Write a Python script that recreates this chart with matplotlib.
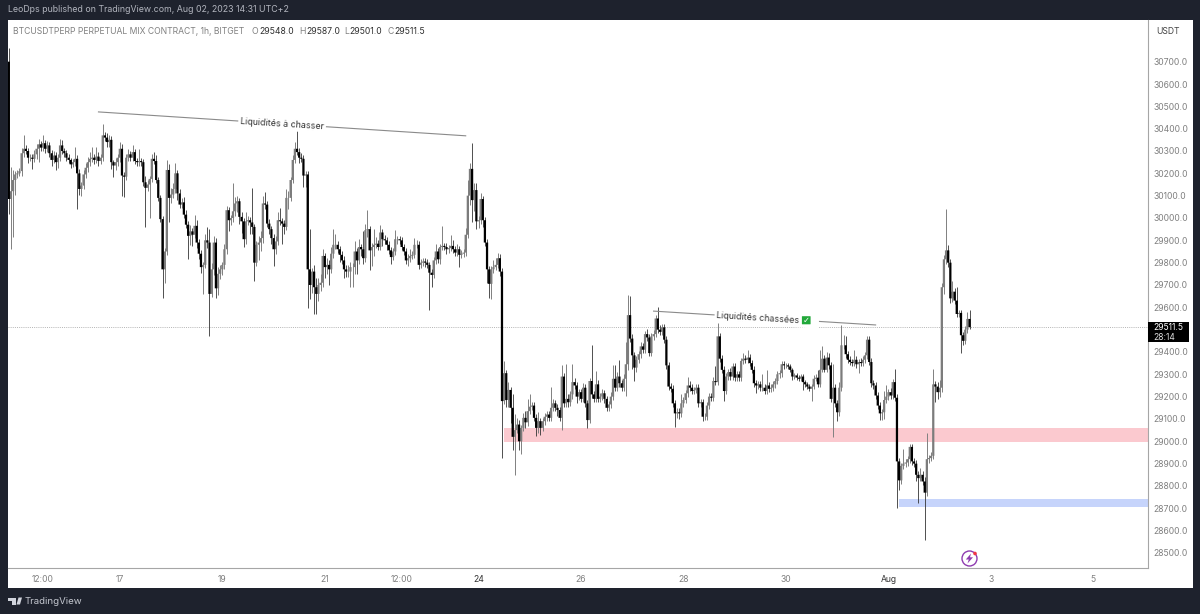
import pandas as pd
import matplotlib.pyplot as plt
import matplotlib.dates as mdates
from matplotlib.patches import Rectangle, Circle, Polygon, FancyBboxPatch

# Hourly candles, one inner list per calendar day
first_open = 30700
start_time = '2023-07-14 20:00'

closes = [
    [30085, 30120, 30170, 30195],
    [30200, 30210, 30290, 30310, 30300, 30270, 30270, 30265, 30285, 30310, 30330, 30315, 30335, 30310, 30325, 30290, 30260, 30280, 30250, 30270, 30325, 30300, 30290, 30270],
    [30260, 30240, 30250, 30265, 30200, 30130, 30145, 30195, 30225, 30250, 30265, 30270, 30260, 30275, 30255, 30270, 30370, 30360, 30340, 30350, 30250, 30235, 30250, 30270],
    [30310, 30190, 30185, 30270, 30285, 30270, 30295, 30255, 30250, 30255, 30250, 30160, 30135, 30150, 30175, 30265, 30255, 30170, 30090, 29995, 29770, 29850, 30215, 30090],
    [30105, 30130, 30200, 30110, 30060, 30070, 30015, 29970, 29920, 29940, 29925, 29965, 29890, 29840, 29780, 29790, 29900, 29890, 29660, 29770, 29890, 29685, 29750, 29770],
    [29790, 29860, 30035, 29990, 30000, 30030, 30065, 30075, 30005, 29985, 29905, 29985, 29990, 29980, 29960, 29800, 29880, 29890, 29910, 30065, 30060, 29975, 29950, 29910],
    [29860, 29895, 29990, 29985, 29975, 29960, 30090, 30090, 30170, 30260, 30310, 30295, 30270, 30265, 30190, 30195, 29770, 29700, 29760, 29690, 29660, 29700, 29710, 29830],
    [29780, 29790, 29770, 29840, 29880, 29880, 29860, 29835, 29810, 29770, 29760, 29760, 29780, 29780, 29850, 29810, 29870, 29860, 29820, 29945, 29950, 29855, 29870, 29880],
    [29885, 29870, 29935, 29905, 29900, 29880, 29855, 29825, 29850, 29905, 29905, 29900, 29870, 29850, 29810, 29820, 29830, 29835, 29880, 29880, 29790, 29800, 29805, 29800],
    [29790, 29755, 29745, 29810, 29850, 29815, 29870, 29875, 29870, 29860, 29865, 29875, 29860, 29845, 29860, 29835, 29840, 29845, 29925, 30100, 30220, 30080, 30125, 29985],
    [29990, 30085, 29990, 29890, 29770, 29705, 29770, 29780, 29790, 29820, 29760, 29180, 29305, 29185, 29230, 29150, 29020, 29050, 29075, 29000, 29060, 29105, 29085, 29135],
    [29155, 29160, 29105, 29060, 29090, 29060, 29090, 29110, 29120, 29105, 29150, 29170, 29150, 29140, 29105, 29290, 29170, 29190, 29175, 29210, 29265, 29250, 29200, 29220],
    [29190, 29240, 29170, 29095, 29270, 29210, 29190, 29255, 29190, 29200, 29215, 29190, 29150, 29165, 29200, 29280, 29240, 29290, 29260, 29240, 29280, 29345, 29565, 29460],
    [29385, 29330, 29365, 29390, 29425, 29410, 29480, 29465, 29395, 29470, 29480, 29550, 29500, 29490, 29510, 29455, 29340, 29245, 29235, 29170, 29125, 29130, 29125, 29170],
    [29185, 29215, 29250, 29240, 29225, 29230, 29240, 29170, 29175, 29110, 29110, 29160, 29200, 29195, 29270, 29265, 29470, 29370, 29320, 29225, 29290, 29310, 29290, 29335],
    [29285, 29300, 29285, 29360, 29370, 29365, 29375, 29350, 29320, 29260, 29250, 29255, 29240, 29240, 29225, 29250, 29235, 29240, 29255, 29270, 29300, 29305, 29345, 29340],
    [29340, 29335, 29320, 29290, 29295, 29285, 29280, 29290, 29265, 29255, 29245, 29235, 29245, 29280, 29285, 29255, 29320, 29370, 29320, 29375, 29340, 29190, 29240, 29170],
    [29130, 29240, 29430, 29430, 29390, 29365, 29355, 29350, 29365, 29345, 29355, 29350, 29365, 29385, 29455, 29355, 29260, 29250, 29205, 29160, 29125, 29130, 29185, 29200],
    [29220, 29205, 29265, 29195, 28910, 28825, 28890, 28900, 28905, 28920, 28975, 28910, 28900, 28850, 28835, 28850, 28820, 28770, 28920, 28925, 28935, 29255, 29245, 29220],
    [29240, 29690, 29815, 29855, 29800, 29640, 29670, 29630, 29570, 29575, 29475, 29450, 29500, 29548, 29511.5],
]

# Wick length above the top of each body
upper_wicks = [
    [60, 110, 45, 15],
    [15, 15, 25, 60, 15, 15, 15, 15, 20, 20, 25, 15, 35, 15, 20, 15, 15, 20, 15, 15, 30, 25, 15, 15],
    [15, 10, 15, 55, 15, 20, 15, 20, 20, 25, 30, 50, 15, 45, 20, 15, 50, 15, 20, 20, 15, 10, 20, 15],
    [30, 20, 15, 15, 25, 15, 30, 15, 15, 55, 15, 15, 30, 20, 15, 20, 30, 25, 15, 15, 15, 15, 45, 25],
    [30, 25, 45, 15, 20, 20, 25, 20, 15, 30, 15, 50, 25, 15, 15, 15, 30, 60, 60, 30, 30, 20, 30, 20],
    [15, 25, 20, 15, 15, 125, 30, 25, 15, 20, 15, 40, 20, 15, 155, 15, 15, 30, 30, 35, 50, 15, 20, 15],
    [20, 25, 35, 55, 15, 15, 40, 30, 15, 20, 30, 100, 20, 20, 15, 15, 15, 180, 15, 30, 40, 30, 40, 30],
    [15, 30, 20, 30, 70, 50, 15, 15, 15, 20, 20, 30, 25, 20, 45, 15, 35, 15, 80, 30, 85, 15, 20, 70],
    [30, 15, 35, 15, 20, 15, 15, 15, 15, 40, 15, 15, 15, 15, 15, 20, 30, 15, 30, 20, 15, 15, 15, 15],
    [15, 15, 15, 15, 35, 15, 15, 90, 15, 20, 15, 50, 25, 15, 25, 15, 15, 15, 30, 70, 25, 115, 30, 30],
    [20, 25, 15, 15, 15, 15, 15, 30, 30, 25, 20, 15, 55, 15, 35, 15, 60, 70, 30, 20, 15, 20, 30, 55],
    [55, 15, 15, 15, 40, 15, 15, 15, 15, 15, 95, 20, 15, 15, 15, 50, 15, 155, 20, 15, 80, 20, 15, 15],
    [15, 20, 15, 15, 15, 160, 15, 60, 20, 15, 20, 15, 15, 15, 20, 60, 60, 20, 75, 15, 20, 100, 90, 85],
    [20, 15, 15, 15, 20, 15, 15, 25, 15, 15, 20, 15, 50, 20, 15, 15, 15, 15, 15, 15, 15, 20, 20, 40],
    [15, 15, 40, 20, 15, 15, 15, 15, 15, 15, 15, 15, 15, 15, 20, 65, 60, 15, 15, 15, 15, 15, 20, 15],
    [15, 15, 15, 15, 25, 15, 35, 15, 15, 15, 15, 15, 15, 60, 15, 70, 15, 15, 15, 15, 15, 15, 15, 15],
    [10, 10, 10, 10, 10, 10, 10, 10, 10, 10, 10, 10, 10, 15, 15, 35, 90, 55, 15, 25, 20, 15, 105, 15],
    [15, 25, 90, 45, 40, 15, 15, 15, 45, 15, 15, 20, 15, 15, 15, 15, 20, 15, 15, 15, 15, 15, 40, 50],
    [15, 20, 15, 60, 15, 15, 15, 65, 15, 15, 15, 15, 15, 15, 15, 30, 15, 20, 115, 15, 15, 70, 15, 20],
    [35, 20, 20, 185, 25, 15, 50, 15, 60, 15, 15, 15, 15, 30, 39],
]

# Wick length below the bottom of each body
lower_wicks = [
    [65, 225, 205, 65],
    [15, 10, 20, 15, 15, 25, 15, 45, 15, 20, 60, 15, 15, 20, 15, 15, 25, 15, 35, 25, 15, 15, 15, 15],
    [15, 15, 10, 15, 160, 25, 30, 15, 15, 20, 15, 15, 20, 15, 20, 15, 15, 15, 20, 20, 30, 50, 20, 15],
    [20, 90, 90, 15, 15, 15, 15, 15, 15, 15, 15, 15, 175, 15, 150, 15, 15, 15, 15, 15, 130, 60, 15, 110],
    [25, 15, 20, 30, 15, 15, 15, 15, 105, 40, 50, 15, 25, 25, 25, 120, 15, 25, 190, 15, 25, 45, 30, 25],
    [25, 20, 20, 50, 20, 20, 20, 40, 30, 50, 35, 20, 15, 50, 30, 80, 15, 70, 40, 20, 20, 15, 20, 25],
    [75, 20, 15, 15, 90, 30, 15, 50, 15, 15, 15, 15, 25, 15, 50, 50, 175, 65, 35, 120, 90, 30, 25, 20],
    [50, 30, 70, 15, 20, 20, 15, 30, 15, 40, 25, 25, 70, 90, 30, 60, 15, 30, 25, 15, 30, 90, 70, 40],
    [15, 15, 15, 30, 15, 25, 15, 30, 15, 15, 20, 15, 15, 15, 15, 25, 15, 15, 15, 15, 20, 15, 15, 20],
    [15, 165, 55, 15, 15, 15, 20, 15, 15, 20, 15, 15, 15, 15, 15, 55, 15, 15, 15, 15, 40, 100, 50, 35],
    [30, 15, 30, 15, 60, 65, 70, 15, 15, 15, 20, 255, 15, 30, 30, 70, 60, 170, 15, 40, 55, 15, 25, 15],
    [15, 15, 15, 35, 25, 30, 15, 15, 20, 15, 15, 15, 15, 25, 15, 55, 15, 15, 20, 15, 20, 15, 30, 15],
    [15, 15, 15, 35, 15, 15, 15, 15, 15, 15, 15, 20, 15, 15, 15, 15, 15, 15, 15, 15, 15, 75, 25, 15],
    [60, 60, 20, 15, 15, 15, 15, 15, 15, 15, 15, 15, 15, 15, 15, 15, 15, 15, 15, 15, 60, 20, 25, 15],
    [15, 15, 15, 15, 15, 15, 15, 15, 15, 20, 15, 15, 15, 15, 15, 15, 15, 15, 15, 45, 15, 15, 15, 15],
    [15, 15, 15, 15, 15, 15, 15, 15, 15, 15, 35, 15, 15, 15, 15, 15, 15, 15, 15, 15, 15, 15, 15, 15],
    [10, 10, 10, 15, 10, 10, 10, 10, 35, 10, 10, 10, 55, 10, 10, 10, 10, 10, 10, 10, 15, 15, 170, 15],
    [40, 15, 15, 15, 15, 15, 15, 15, 15, 15, 40, 15, 15, 15, 15, 15, 15, 15, 15, 15, 30, 30, 30, 15],
    [15, 15, 15, 15, 210, 45, 15, 15, 15, 15, 15, 15, 15, 30, 110, 15, 15, 210, 15, 15, 15, 15, 70, 30],
    [20, 20, 30, 20, 20, 20, 15, 15, 15, 15, 80, 20, 15, 15, 10.5],
]

# 29500.0 sits under the last price box in the original, so it has no label
price_ticks = [28500, 28600, 28700, 28800, 28900, 29000, 29100, 29200, 29300, 29400, 29600,
               29700, 29800, 29900, 30000, 30100, 30200, 30300, 30400, 30500, 30600, 30700]
time_ticks = ['2023-07-15 12:00', '2023-07-17 00:00', '2023-07-19 00:00', '2023-07-21 00:00', '2023-07-22 12:00', '2023-07-24 00:00',
              '2023-07-26 00:00', '2023-07-28 00:00', '2023-07-30 00:00', '2023-08-01 00:00', '2023-08-03 00:00', '2023-08-05 00:00']
time_labels = ['12:00', '17', '19', '21', '12:00', '24', '26', '28', '30', 'Aug', '3', '5']

last_price = 29511.5
header_left = 'BTCUSDTPERP PERPETUAL MIX CONTRACT, 1h, BITGET'
published = 'LeoDps published on TradingView.com, Aug 02, 2023 14:31 UTC+2'
ohlc_header = [('O', '29548.0', 252, 259), ('H', '29587.0', 299, 306), ('L', '29501.0', 344, 349), ('C', '29511.5', 388, 394)]

# Flatten the daily rows into one frame
for name, rows in [('upper', upper_wicks), ('lower', lower_wicks)]:
    for day, row in enumerate(rows):
        if len(row) != len(closes[day]):
            raise ValueError(f'{name} row {day}: {len(row)} vs {len(closes[day])}')

candles = pd.DataFrame({
    'close': [v for row in closes for v in row],
    'upper': [v for row in upper_wicks for v in row],
    'lower': [v for row in lower_wicks for v in row],
})
candles['time'] = pd.date_range(start_time, periods=len(candles), freq='h')
candles['open'] = candles['close'].shift(1).fillna(first_open)
candles['top'] = candles[['open', 'close']].max(axis=1)
candles['bottom'] = candles[['open', 'close']].min(axis=1)
candles['high'] = candles['top'] + candles['upper']
candles['low'] = candles['bottom'] - candles['lower']
candles['x'] = mdates.date2num(candles['time'])
up = candles[candles['close'] >= candles['open']]
down = candles[candles['close'] < candles['open']]

W, H = 1200, 614
DARK = '#1e222d'
GREY_TEXT = '#808080'
plt.rcParams['font.family'] = ['Inter', 'DejaVu Sans']

fig = plt.figure(figsize=(W / 100, H / 100), dpi=100, facecolor=DARK)


def fx(x):
    return x / W


def fy(y):
    return 1 - y / H


def label(x, y, s, **kw):
    kw.setdefault('va', 'center')
    kw.setdefault('fontsize', 6.2)
    kw.setdefault('color', GREY_TEXT)
    return fig.text(fx(x), fy(y), s, **kw)


# White panel behind the chart
fig.add_artist(Rectangle((fx(8), fy(588)), fx(1185), 568 / H, transform=fig.transFigure,
                         facecolor='white', edgecolor='none', zorder=-1))

ax = fig.add_axes([fx(8), fy(568), fx(1139.5), 548 / H], facecolor='white')

# Price scale: 22.33 px per 100 USDT
ax.set_ylim(28432.6, 30886.6)
right_edge = mdates.date2num(pd.Timestamp(start_time)) + (1147.5 - 8.8) / 2.135 / 24
left_edge = mdates.date2num(pd.Timestamp(start_time)) - 0.8 / 2.135 / 24
ax.set_xlim(left_edge, right_edge)

# Zones
pink_start = candles['x'].iloc[232]
blue_start = candles['x'].iloc[417]
ax.add_patch(Rectangle((pink_start, 28998), right_edge - pink_start, 60, facecolor='#fbc9cf', edgecolor='none', zorder=1))
ax.add_patch(Rectangle((blue_start, 28704), right_edge - blue_start, 39, facecolor='#c6d4fb', edgecolor='none', zorder=1))

ax.axhline(last_price, color='#b4b4b4', lw=0.7, ls=(0, (1, 1.2)), zorder=1)

# Candles, grey going up and black going down. No snapping, the original is soft
body_w = 1.05 / 24
ax.vlines(up['x'], up['low'], up['high'], color='#808080', lw=0.7, zorder=2)
up_bars = ax.bar(up['x'], up['top'] - up['bottom'], bottom=up['bottom'], width=body_w, color='#7c7c7c', linewidth=0, zorder=2)
ax.vlines(down['x'], down['low'], down['high'], color='#333333', lw=0.6, zorder=3)
down_bars = ax.bar(down['x'], down['top'] - down['bottom'], bottom=down['bottom'], width=body_w, color='black', linewidth=0, zorder=3)
for bar in list(up_bars) + list(down_bars):
    bar.set_snap(False)

# Annotated trend lines
ax.plot([candles['x'].iloc[42], candles['x'].iloc[214]], [30475, 30368], color='#8a8a8a', lw=0.8, zorder=4)
ax.plot([candles['x'].iloc[302], candles['x'].iloc[406]], [29583, 29521], color='#8a8a8a', lw=0.8, zorder=4)
ax.text(candles['x'].iloc[128], 30420, 'Liquidités à chasser', fontsize=6.4, color='#333333', rotation=-3.6,
        rotation_mode='anchor', ha='center', va='center', zorder=5,
        bbox=dict(facecolor='white', edgecolor='none', pad=1.5))
ax.text(candles['x'].iloc[355], 29548, 'Liquidités chassées       ', fontsize=6.4, color='#333333', rotation=-3.6,
        rotation_mode='anchor', ha='center', va='center', zorder=5,
        bbox=dict(facecolor='white', edgecolor='none', pad=1.5))

# Axes furniture
ax.yaxis.tick_right()
ax.set_yticks(price_ticks)
ax.set_yticklabels([f'{p:.1f}' for p in price_ticks])
ax.set_xticks(mdates.date2num(pd.to_datetime(time_ticks)))
ax.set_xticklabels(time_labels)
ax.tick_params(axis='y', length=0, pad=4.5, labelsize=6.2, labelcolor=GREY_TEXT)
ax.tick_params(axis='x', length=0, pad=5, labelsize=6.2, labelcolor=GREY_TEXT)
for tick in ax.get_xticklabels():
    if tick.get_text() in ('Aug', '24'):
        tick.set_color('#333333')
ax.spines['top'].set_visible(False)
ax.spines['left'].set_visible(False)
ax.spines['right'].set_color('#a6a6a6')
ax.spines['bottom'].set_color('#a6a6a6')

# Check-mark badge next to the second label
fig.add_artist(FancyBboxPatch((fx(802.5), fy(324)), fx(7.5), 7.5 / H, boxstyle='round,pad=0.0005', transform=fig.transFigure,
                              facecolor='#22a83a', edgecolor='none'))
label(806.2, 320.2, '\u2713', color='white', fontsize=6, ha='center', family='DejaVu Sans', fontweight='bold')

# Header and footer
label(8, 10, published, color='#b2b5be', fontsize=6.35)
label(13, 31, header_left, fontsize=6.2)
for letter, value, lx, vx in ohlc_header:
    label(lx, 31, letter, fontsize=6.25)
    label(vx, 31, value, fontsize=6.25, color='#303030')
label(1168, 31, 'USDT', fontsize=6.2, color='#444444', ha='center')

# Last price box
fig.add_artist(Rectangle((fx(1147.5), fy(342.3)), fx(41.5), 20.6 / H, transform=fig.transFigure, facecolor='black', edgecolor='none'))
label(1153, 327, f'{last_price:.1f}', color='white', fontsize=6.1)
label(1153, 337, '28:14', color='#dddddd', fontsize=6.1)

# Lightning icon, in pixels so the circle stays round
px = fig.dpi_scale_trans
fig.add_artist(Circle((969.5 / 100, (H - 558.5) / 100), 7.5 / 100, transform=px, facecolor='none', edgecolor='#8e3bb0', lw=1.0))
bolt = [(971, 553.5), (965.8, 559.5), (968.8, 559.5), (967.5, 563.5), (973, 557.3), (970, 557.3)]
fig.add_artist(Polygon([(a / 100, (H - b) / 100) for a, b in bolt], closed=True, transform=px, facecolor='#8e3bb0', edgecolor='none'))
fig.add_artist(Circle((975 / 100, (H - 553.5) / 100), 1.8 / 100, transform=px, facecolor='#f23645', edgecolor='none'))

# TradingView logo
for pts in [[(8, 597.5), (15.5, 597.5), (15.5, 604.5), (11.5, 604.5), (11.5, 600.5), (8, 600.5)],
            [(18.5, 597.5), (22, 597.5), (20, 604.5), (16.5, 604.5)]]:
    fig.add_artist(Polygon([(fx(a), fy(b)) for a, b in pts], closed=True, transform=fig.transFigure, facecolor='#d1d4dc', edgecolor='none'))
label(25, 601.5, 'TradingView', color='#c3c6ce', fontsize=6.95)

plt.savefig('out.png', dpi=100, facecolor=fig.get_facecolor())
